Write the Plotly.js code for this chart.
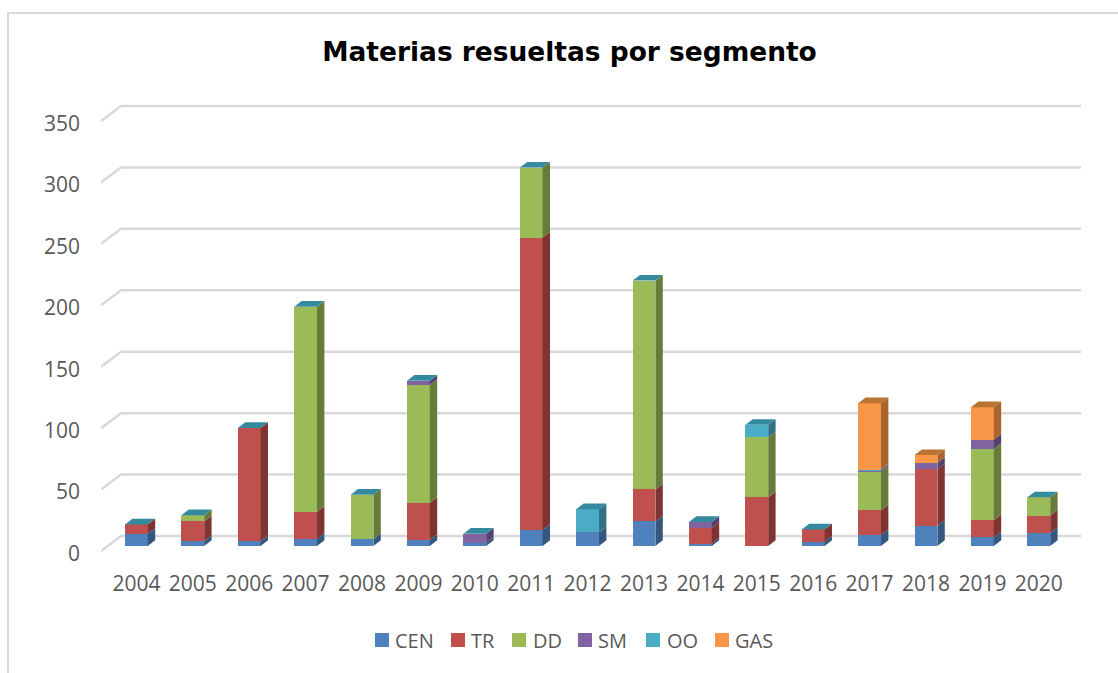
<!DOCTYPE html>
<html><head><meta charset="utf-8">
<script src="https://cdn.plot.ly/plotly-3.0.1.min.js"></script>
<style>
html,body{margin:0;padding:0;background:#fff;overflow:hidden}
#frame{position:absolute;left:7px;top:12px;width:1111px;height:661px;border-left:2px solid #d9d9d9;border-top:2px solid #d9d9d9;box-sizing:border-box}
#chart{position:absolute;left:0;top:0;width:1118px;height:673px}
</style></head><body>
<div id="frame"></div><div id="chart"></div>
<script>
const years=[2004,2005,2006,2007,2008,2009,2010,2011,2012,2013,2014,2015,2016,2017,2018,2019,2020];
const CEN=[10,4,4,5.7,5.7,5,2.7,13,11,20,2,0,3.5,9,16.5,7,10.6];
const TR=[7.6,16,92,22,0,30,0,238,0,26,12.6,39.6,10,20,46,14,14];
const DD=[0,5,0,167,36,96,0,57,0,170,0,49,0,31,0,58,15];
const SM=[0,0,0,0,0,3.5,7.3,0,0,0,5,0,0,1.2,5,7.5,0];
const OO=[0,0,0,0,0,0,0,0,19,0,0,10,0,1,0,0,0];
const GAS=[0,0,0,0,0,0,0,0,0,0,0,0,0,54,6.5,26.5,0];
const yTicks=[0,50,100,150,200,250,300,350];
const seriesNames=['CEN','TR','DD','SM','OO','GAS'];
const seriesValues=[CEN,TR,DD,SM,OO,GAS];
const seriesColors=['#4F81BD','#C0504D','#9BBB59','#8064A2','#4BACC6','#F79646'];
const sideColors=['#35577F','#7F3432','#677C3A','#54416C','#317286','#A9652D'];
const topOO='#368A9F', topGAS='#BA7431';
const legendSwatchX=[375,451,512,578,646,715];
const legendTextX=[395,471,533,598,667,735];

// pixel geometry of the oblique projection
const pxPerUnit=1.2286, pxPerCat=56.4, plotL=101, plotR=1081, plotT=100, plotB=560;
const barBase=546, wallFrontPx=551, labelBase=553.5, cat0=136.4;
const barW=22.8/pxPerCat, halfW=barW/2, dX=7.4/pxPerCat, dY=5.7/pxPerUnit;
const wallX=20/pxPerCat, wallFront=(barBase-wallFrontPx)/pxPerUnit, wallBack=(barBase-536)/pxPerUnit;
const xRange=[years[0]+(plotL-cat0)/pxPerCat, years[0]+(plotR-cat0)/pxPerCat];
const paperX=px=>(px-plotL)/(plotR-plotL), paperY=py=>(plotB-py)/(plotB-plotT);

const shapes=[];
function poly(pts,color,layer){
  shapes.push({type:'path',xref:'x',yref:'y',layer:layer||'above',
    path:'M'+pts.map(p=>p[0].toFixed(4)+','+p[1].toFixed(3)).join(' L')+' Z',
    fillcolor:color,line:{width:0}});
}
yTicks.forEach(v=>{
  shapes.push({type:'path',xref:'x',yref:'y',layer:'below',
    path:`M${xRange[0]},${v+wallFront} L${xRange[0]+wallX},${v+wallBack} L${xRange[1]},${v+wallBack}`,
    line:{color:'#D9D9D9',width:2.5}});
});
years.forEach((yr,i)=>{
  let b=0;
  seriesValues.forEach((vals,s)=>{
    const t=b+vals[i];
    if(vals[i]>0){
      const x1=yr+halfW;
      poly([[x1,b],[x1+dX,b+dY],[x1+dX,t+dY],[x1,t]],sideColors[s]);
    }
    b=t;
  });
  const x0=yr-halfW,x1=yr+halfW;
  poly([[x0,b],[x0+dX,b+dY],[x1+dX,b+dY],[x1,b]],GAS[i]>0?topGAS:topOO);
});

// legend key: swatches and real-text labels
const annotations=[];
seriesNames.forEach((n,s)=>{
  shapes.push({type:'rect',xref:'paper',yref:'paper',x0:paperX(legendSwatchX[s]),x1:paperX(legendSwatchX[s]+14),
    y0:paperY(647),y1:paperY(633),fillcolor:seriesColors[s],line:{width:0}});
  annotations.push({xref:'paper',yref:'paper',x:paperX(legendTextX[s]),y:paperY(640.5),text:n,showarrow:false,
    xanchor:'left',yanchor:'middle',borderpad:0,borderwidth:0,font:{size:20,color:'#595959'}});
});

const traces=seriesNames.map((n,s)=>({
  type:'bar',name:n,x:years,y:seriesValues[s],width:barW,
  marker:{color:seriesColors[s],line:{width:0}},hoverinfo:'name+x+y'
}));

const layout={
  width:1118,height:673,paper_bgcolor:'rgba(0,0,0,0)',plot_bgcolor:'rgba(0,0,0,0)',
  margin:{l:plotL,r:1118-plotR,t:plotT,b:673-plotB,pad:0},
  barmode:'stack',showlegend:false,
  font:{family:'"Open Sans",sans-serif',size:20,color:'#595959'},
  title:{text:'<b>Materias resueltas por segmento</b>',xref:'container',yref:'container',x:569.5/1118,y:1-52/673,xanchor:'center',yanchor:'middle',
    font:{family:'"DejaVu Sans",sans-serif',size:26.45,color:'#000'}},
  xaxis:{type:'linear',range:xRange,tickmode:'array',tickvals:years,ticktext:years.map(String),showgrid:false,zeroline:false,showline:false,ticks:'',
    ticklabelstandoff:9,tickfont:{size:21,color:'#595959'},fixedrange:true},
  yaxis:{range:[(barBase-plotB)/pxPerUnit,(barBase-plotT)/pxPerUnit],showgrid:false,zeroline:false,showline:false,showticklabels:false,ticks:'',fixedrange:true},
  yaxis2:{overlaying:'y',side:'left',anchor:'x',range:[(labelBase-plotB)/pxPerUnit,(labelBase-plotT)/pxPerUnit],tickmode:'array',tickvals:yTicks,ticktext:yTicks.map(String),
    showgrid:false,zeroline:false,showline:false,ticks:'',ticklabelstandoff:20,tickfont:{size:21,color:'#595959'},fixedrange:true},
  shapes:shapes,annotations:annotations
};
// empty helper so the label axis is always drawn
traces.push({type:'scatter',mode:'none',x:[years[0]],y:[0],yaxis:'y2',showlegend:false,hoverinfo:'skip'});
Plotly.newPlot('chart',traces,layout,{displayModeBar:false,staticPlot:true});
</script>
</body></html>
